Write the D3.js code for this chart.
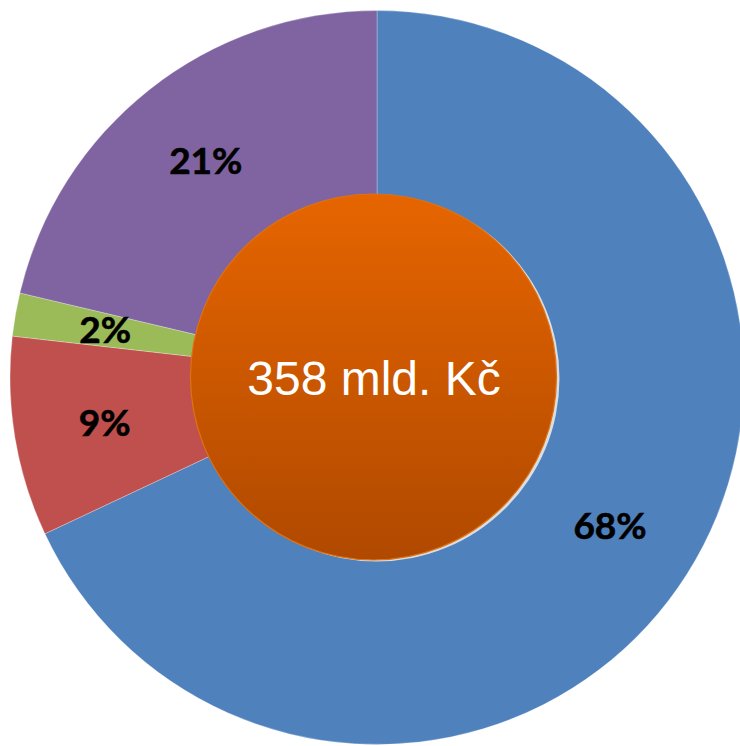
<!DOCTYPE html>
<html>
<head>
<meta charset="utf-8">
<script src="https://cdn.jsdelivr.net/npm/d3@7"></script>
<style>
  html, body { margin: 0; padding: 0; background: #fff; }
  svg { display: block; }
</style>
</head>
<body>
<svg id="chart" width="740" height="746"></svg>
<script>
const categories = ["A", "B", "C", "D"];
const values = [68.0, 8.8, 1.9, 21.3];
const labels = ["68%", "9%", "2%", "21%"];
const colors = ["#4F81BD", "#C0504D", "#9BBB59", "#8064A2"];
const centerText = "358 mld. Kč";

const svg = d3.select("#chart");
const cx = 377, cy = 377.5, R = 367;
const g = svg.append("g").attr("transform", `translate(${cx},${cy})`);

const pie = d3.pie().sort(null).value(d => d.v);
const data = pie(values.map((v, i) => ({ v, c: colors[i], l: labels[i], k: categories[i] })));
const arc = d3.arc().innerRadius(0).outerRadius(R);
const labelArc = d3.arc().innerRadius(276).outerRadius(276);

g.selectAll("path.slice").data(data).join("path")
  .attr("class", "slice")
  .attr("d", arc)
  .attr("fill", d => d.data.c)
  .attr("stroke", "rgba(255,255,255,0.35)")
  .attr("stroke-width", 0.8);

g.selectAll("text.lbl").data(data).join("text")
  .attr("class", "lbl")
  .attr("transform", d => `translate(${labelArc.centroid(d)})`)
  .attr("text-anchor", "middle")
  .attr("dy", "0.36em")
  .attr("font-family", "Lato, 'Open Sans', sans-serif")
  .attr("font-weight", "bold")
  .attr("font-size", 37)
  .attr("fill", "#000")
  .attr("stroke", "#000")
  .attr("stroke-width", 0.6)
  .text(d => d.data.l);

// center circle
const defs = svg.append("defs");
const grad = defs.append("linearGradient").attr("id", "og")
  .attr("x1", 0).attr("y1", 0).attr("x2", 0).attr("y2", 1);
grad.append("stop").attr("offset", "0%").attr("stop-color", "#E66500");
grad.append("stop").attr("offset", "100%").attr("stop-color", "#B04900");

const ix = 373.5, iy = 377, ir = 183;
svg.append("circle").attr("cx", ix + 3).attr("cy", iy + 1.5).attr("r", ir)
  .attr("fill", "#e8e8e8").attr("opacity", 0.9);
svg.append("circle").attr("cx", ix).attr("cy", iy).attr("r", ir)
  .attr("fill", "url(#og)")
  .attr("stroke", "#E0720F").attr("stroke-width", 1.2);

svg.append("text")
  .attr("x", 374).attr("y", 395)
  .attr("text-anchor", "middle")
  .attr("font-family", "'Liberation Sans', Arial, sans-serif")
  .attr("font-size", 48)
  .attr("fill", "#fff")
  .text(centerText);
</script>
</body>
</html>
